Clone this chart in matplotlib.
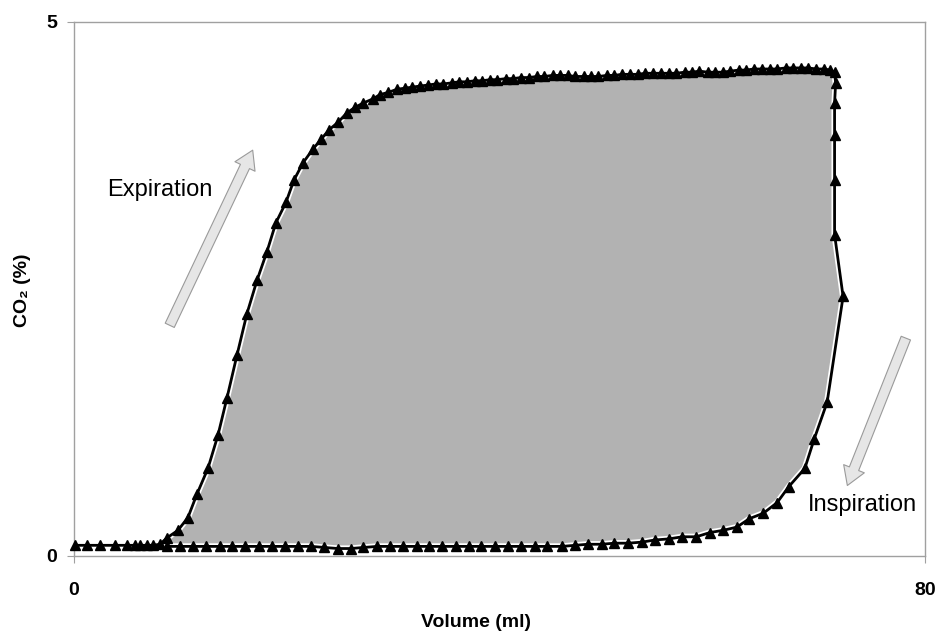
import matplotlib
matplotlib.use("Agg")
import matplotlib.pyplot as plt
from matplotlib.patches import Polygon

plt.rcParams['font.family'] = ['Liberation Sans', 'DejaVu Sans']

# ---- data (Volume in ml, CO2 in %) ----
exp_x = [0.09, 1.22, 2.44, 3.85, 4.98, 5.73, 6.20, 6.86, 7.42, 8.08,
         8.74, 9.77, 10.71, 11.56, 12.59, 13.53, 14.38, 15.32, 16.26, 17.20,
         18.14, 18.98, 19.92, 20.68, 21.52, 22.46, 23.21, 23.97, 24.81, 25.66,
         26.41, 27.16, 28.10, 28.76, 29.51, 30.36,
         31.1, 31.8, 32.5, 33.3, 34.0, 34.7, 35.5, 36.2, 36.9, 37.7,
         38.4, 39.1, 39.8, 40.6, 41.3, 42.0, 42.8, 43.5, 44.2, 45.0,
         45.7, 46.4, 47.1, 47.9, 48.6, 49.3, 50.1, 50.8, 51.5, 52.3,
         53.0, 53.7, 54.4, 55.2, 55.9, 56.6, 57.4, 58.1, 58.8, 59.6,
         60.3, 61.0, 61.7, 62.5, 63.2, 63.9, 64.7, 65.4, 66.1, 66.9,
         67.6, 68.3, 69.0, 69.8, 70.5, 71.1, 71.5]
exp_y = [0.10, 0.10, 0.10, 0.10, 0.10, 0.10, 0.10, 0.10, 0.10, 0.11,
         0.17, 0.24, 0.36, 0.58, 0.82, 1.13, 1.48, 1.88, 2.27, 2.58,
         2.85, 3.12, 3.31, 3.52, 3.68, 3.81, 3.90, 3.99, 4.06, 4.15,
         4.20, 4.24, 4.28, 4.32, 4.34, 4.37,
         4.38, 4.39, 4.40, 4.41, 4.42, 4.42, 4.43, 4.44, 4.44, 4.45,
         4.45, 4.46, 4.46, 4.47, 4.47, 4.48, 4.48, 4.49, 4.49, 4.50,
         4.50, 4.50, 4.49, 4.49, 4.49, 4.49, 4.50, 4.50, 4.51, 4.51,
         4.51, 4.52, 4.52, 4.52, 4.52, 4.52, 4.53, 4.53, 4.54, 4.53,
         4.53, 4.53, 4.54, 4.55, 4.55, 4.56, 4.56, 4.56, 4.56, 4.57,
         4.57, 4.57, 4.57, 4.56, 4.56, 4.55, 4.53]

insp_x = [71.6, 71.5, 71.5, 71.5, 71.5, 72.3, 70.8, 69.6, 68.7, 67.2,
          66.1, 64.8, 63.5, 62.3, 61.0, 59.8, 58.5, 57.2, 55.9, 54.6,
          53.4, 52.1, 50.8, 49.6, 48.3, 47.1, 45.9, 44.5,
          43.3, 42.0, 40.8, 39.6, 38.3, 37.1, 35.9, 34.6, 33.4, 32.2,
          30.9, 29.7, 28.5, 27.2, 26.0, 24.8, 23.5, 22.3, 21.1, 19.8,
          18.6, 17.4, 16.1, 14.9, 13.7, 12.4, 11.2, 10.0, 8.7]
insp_y = [4.43, 4.24, 3.94, 3.52, 3.01, 2.43, 1.44, 1.10, 0.82, 0.65,
          0.50, 0.40, 0.35, 0.27, 0.24, 0.22, 0.18, 0.18, 0.16, 0.15,
          0.13, 0.12, 0.12, 0.11, 0.11, 0.10, 0.09, 0.09,
          0.09, 0.09, 0.09, 0.09, 0.09, 0.09, 0.09, 0.09, 0.09, 0.09,
          0.09, 0.09, 0.09, 0.08, 0.07, 0.07, 0.08, 0.09, 0.09, 0.09,
          0.09, 0.09, 0.09, 0.09, 0.09, 0.09, 0.09, 0.09, 0.09]

x_ticks = [0, 80]
y_ticks = [0, 5]

# ---- figure ----
fig = plt.figure(figsize=(9.39, 6.35), dpi=100)
ax = fig.add_axes([74/939, 79/635, 851/939, 534/635])

loop = list(zip(exp_x, exp_y)) + list(zip(insp_x, insp_y))
ax.add_patch(Polygon(loop, closed=True, facecolor='#b2b2b2',
                     edgecolor='white', lw=4.5, joinstyle='round', zorder=2))

ax.plot(exp_x + insp_x, exp_y + insp_y, color='black', lw=2.0,
        marker='^', markersize=6.5, markerfacecolor='black',
        markeredgecolor='black', zorder=3, clip_on=False)

arrow_kw = dict(arrowstyle='simple,head_length=1.3,head_width=1.6,tail_width=0.72',
                mutation_scale=10, fc='#e6e6e6', ec='#9a9a9a', lw=0.8,
                shrinkA=0, shrinkB=0)
ax.annotate('', xy=(16.8, 3.80), xytext=(9.0, 2.16), arrowprops=arrow_kw)
ax.annotate('', xy=(72.7, 0.66), xytext=(78.2, 2.04), arrowprops=arrow_kw)

ax.text(8.1, 3.43, 'Expiration', fontsize=17, ha='center', va='center')
ax.text(74.1, 0.48, 'Inspiration', fontsize=17, ha='center', va='center')

ax.set_xlim(0, 80)
ax.set_ylim(0, 5)
ax.set_xticks(x_ticks)
ax.set_yticks(y_ticks)
ax.set_xticklabels([str(v) for v in x_ticks], fontsize=14, fontweight='bold')
ax.set_yticklabels([str(v) for v in y_ticks], fontsize=14, fontweight='bold')
ax.tick_params(axis='x', direction='out', length=5, color='#a0a0a0', pad=14)
ax.tick_params(axis='y', direction='out', length=5, color='#a0a0a0', pad=7)
for s in ax.spines.values():
    s.set_color('#a0a0a0')
    s.set_linewidth(1.0)

ax.set_xlabel('Volume (ml)', fontsize=14, fontweight='bold', va='center')
ax.xaxis.set_label_coords(0.472, -0.1236)
ax.set_ylabel('CO₂ (%)', fontsize=14, fontweight='bold', va='center')
ax.yaxis.set_label_coords(-0.0611, 0.498)

fig.savefig('out.png', dpi=100)
